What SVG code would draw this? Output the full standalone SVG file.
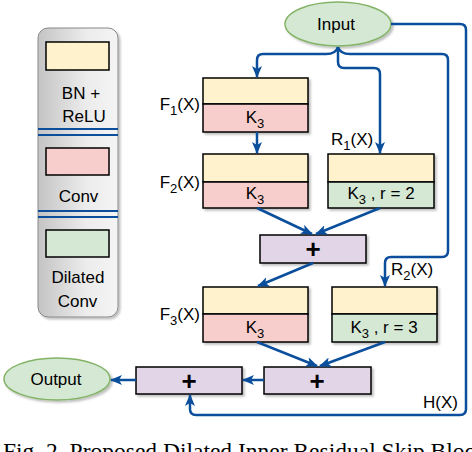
<svg xmlns="http://www.w3.org/2000/svg" width="472" height="452" viewBox="0 0 472 452">
<defs>
<linearGradient id="legGrad" x1="0" y1="0" x2="1" y2="0">
<stop offset="0" stop-color="#c4c4c4"/>
<stop offset="0.6" stop-color="#ececec"/>
<stop offset="1" stop-color="#f4f4f4"/>
</linearGradient>
<filter id="sh" x="-10%" y="-10%" width="130%" height="140%">
<feDropShadow dx="2" dy="2" stdDeviation="1" flood-color="#000" flood-opacity="0.25"/>
</filter>
<marker id="arr" viewBox="0 0 12 10" refX="11" refY="5" markerWidth="12" markerHeight="10" markerUnits="userSpaceOnUse" orient="auto">
<path d="M0,0 L12,5 L0,10 L3,5 z" fill="#0b4f9c"/>
</marker>
</defs>
<style>
.t{font-family:"Liberation Sans",Arial,sans-serif;font-size:17px;fill:#000}
.c{text-anchor:middle}
.y{fill:#fff2cc;stroke:#000;stroke-width:1.5}
.p{fill:#f8cecc;stroke:#000;stroke-width:1.5}
.g{fill:#d5e8d4;stroke:#000;stroke-width:1.5}
.v{fill:#e1d5e7;stroke:#000;stroke-width:1.5}
.e{fill:#d5e8d4;stroke:#82b366;stroke-width:1.5}
.con path{fill:none;stroke:#0b4f9c;stroke-width:2.5;marker-end:url(#arr)}
.plus{font-family:"Liberation Sans",Arial,sans-serif;font-size:26px;font-weight:bold;text-anchor:middle}
.sep{stroke:#0b4f9c;stroke-width:2}
</style>
<rect width="472" height="452" fill="#fff"/>

<g id="legend">
<rect x="38" y="28" width="80" height="289" rx="10" fill="url(#legGrad)" stroke="#888" stroke-width="1" filter="url(#sh)"/>
<rect class="y" x="46" y="42" width="63" height="28"/>
<text class="t c" x="81" y="99">BN +</text>
<text class="t c" x="84" y="122">ReLU</text>
<line class="sep" x1="38" y1="129" x2="118" y2="129"/>
<line class="sep" x1="38" y1="135" x2="118" y2="135"/>
<rect class="p" x="46" y="148" width="63" height="27"/>
<text class="t c" x="78.5" y="202">Conv</text>
<line class="sep" x1="38" y1="211" x2="118" y2="211"/>
<line class="sep" x1="38" y1="217" x2="118" y2="217"/>
<rect class="g" x="46" y="230" width="63" height="27"/>
<text class="t c" x="78" y="283">Dilated</text>
<text class="t c" x="77.5" y="307">Conv</text>
</g>

<g id="input">
<ellipse class="e" cx="338" cy="24" rx="53" ry="22" filter="url(#sh)"/>
<text class="t c" x="336" y="30">Input</text>
</g>

<g id="output">
<ellipse class="e" cx="57" cy="379" rx="53" ry="21" filter="url(#sh)"/>
<text class="t c" x="56" y="385">Output</text>
</g>

<g id="f1">
<g filter="url(#sh)">
<rect class="y" x="203" y="78" width="105" height="26"/>
<rect class="p" x="203" y="104" width="105" height="28"/>
</g>
<text class="t c" x="255" y="123">K<tspan font-size="13" dy="5">3</tspan></text>
<text class="t" x="200" y="110" text-anchor="end">F<tspan font-size="13" dy="5">1</tspan><tspan dy="-5">(X)</tspan></text>
</g>

<g id="f2">
<g filter="url(#sh)">
<rect class="y" x="203" y="154" width="105" height="28"/>
<rect class="p" x="203" y="182" width="105" height="26"/>
</g>
<text class="t c" x="255" y="199">K<tspan font-size="13" dy="5">3</tspan></text>
<text class="t" x="200" y="188" text-anchor="end">F<tspan font-size="13" dy="5">2</tspan><tspan dy="-5">(X)</tspan></text>
</g>

<g id="r1">
<g filter="url(#sh)">
<rect class="y" x="328" y="154" width="106" height="28"/>
<rect class="g" x="328" y="182" width="106" height="26"/>
</g>
<text class="t c" x="381" y="199">K<tspan font-size="13" dy="5">3</tspan><tspan dy="-5"> , r = 2</tspan></text>
<text class="t" x="331" y="145">R<tspan font-size="13" dy="5">1</tspan><tspan dy="-5">(X)</tspan></text>
</g>

<g id="plus1">
<rect class="v" x="260" y="235" width="106" height="28" filter="url(#sh)"/>
<text class="plus" x="313" y="258">+</text>
</g>

<g id="f3">
<g filter="url(#sh)">
<rect class="y" x="203" y="287" width="105" height="27"/>
<rect class="p" x="203" y="314" width="105" height="28"/>
</g>
<text class="t c" x="255" y="333">K<tspan font-size="13" dy="5">3</tspan></text>
<text class="t" x="200" y="320" text-anchor="end">F<tspan font-size="13" dy="5">3</tspan><tspan dy="-5">(X)</tspan></text>
</g>

<g id="r2">
<g filter="url(#sh)">
<rect class="y" x="332" y="287" width="105" height="27"/>
<rect class="g" x="332" y="314" width="105" height="28"/>
</g>
<text class="t c" x="384" y="333">K<tspan font-size="13" dy="5">3</tspan><tspan dy="-5"> , r = 3</tspan></text>
<text class="t" x="391" y="275">R<tspan font-size="13" dy="5">2</tspan><tspan dy="-5">(X)</tspan></text>
</g>

<g id="plus2">
<rect class="v" x="264" y="367" width="107" height="27" filter="url(#sh)"/>
<text class="plus" x="317" y="390">+</text>
</g>

<g id="plus3">
<rect class="v" x="136" y="367" width="106" height="27" filter="url(#sh)"/>
<text class="plus" x="189" y="390">+</text>
</g>

<g id="connectors" class="con">
<path d="M338,47 Q336,54 326,54 L263,54 Q257,54 257,60 L257,77"/>
<path d="M338,47 L338,62 Q338,68 344,68 L374,68 Q380,68 380,74 L380,153"/>
<path d="M338,47 Q340,54 350,54 L442,54 Q448,54 448,60 L448,251 Q448,257 442,257 L391,257 Q385,257 385,263 L385,286"/>
<path d="M391,24 L460,24 Q466,24 466,30 L466,409 Q466,415 460,415 L196,415 Q190,415 190,409 L190,395"/>
<path d="M257,132 L257,153"/>
<path d="M257,208 L312,234"/>
<path d="M380,208 L316,234"/>
<path d="M313,263 L258,286"/>
<path d="M257,342 L317,366"/>
<path d="M385,342 L320,366"/>
<path d="M264,380 L243,380"/>
<path d="M136,380 L111,380"/>
</g>
<text class="t" x="423" y="408">H(X)</text>

<text x="3" y="459" style="font-family:'Liberation Serif','Times New Roman',serif;font-size:23.5px;fill:#000">Fig. 2. Proposed Dilated Inner Residual Skip Block</text>
</svg>
